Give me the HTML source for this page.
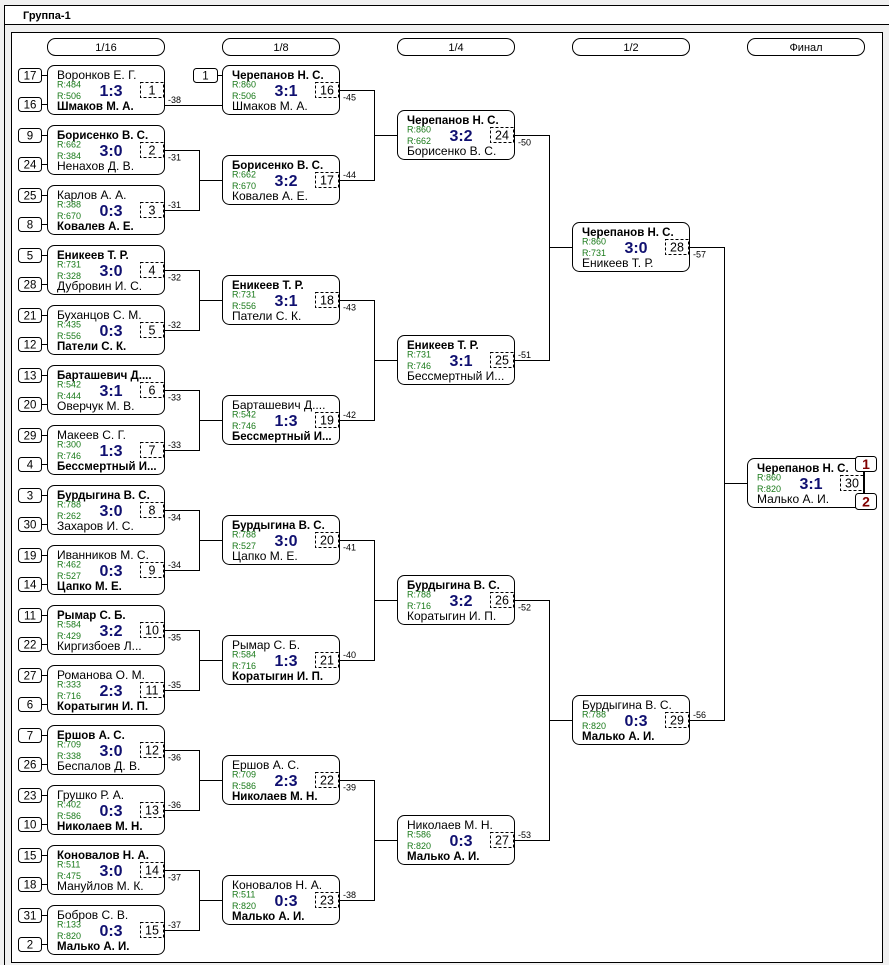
<!DOCTYPE html>
<html><head><meta charset="utf-8">
<style>
html,body{margin:0;padding:0;background:#f0f0f0;width:889px;height:965px;overflow:hidden}
svg{display:block}
text{font-family:"Liberation Sans",Arial,sans-serif;fill:#000}
.n{font-size:12px}
.b{font-size:11.5px;font-weight:bold}
.r{font-size:9px;fill:#1a7a1a}
.s{font-size:16px;font-weight:bold;fill:#101070;text-anchor:middle}
.m{font-size:12.5px;text-anchor:middle}
.q{font-size:11.5px;text-anchor:middle}
.l{font-size:9px}
.h{font-size:11px;text-anchor:middle}
.g{font-size:11px;font-weight:bold}
.p{font-size:14px;font-weight:bold;fill:#800000;text-anchor:middle}
.bx{fill:#fff;stroke:#000}
.ds{fill:#fff;stroke:#000;stroke-dasharray:3 2}
.sd{fill:#fff;stroke:#000}
.ln{stroke:#000;fill:none;shape-rendering:crispEdges}
</style></head><body>
<svg width="889" height="965" viewBox="0 0 889 965" xmlns="http://www.w3.org/2000/svg">
<rect x="0" y="0" width="889" height="965" fill="#f0f0f0"/>
<rect x="4" y="5" width="885" height="20" fill="#fff"/>
<path class="ln" d="M4 5.5H889M4 24.5H889M4.5 5V965"/>
<text class="g" x="23" y="19">Группа-1</text>
<rect x="11.5" y="32.5" width="871" height="930" fill="#fff" stroke="#000" shape-rendering="crispEdges"/>

<!-- round headers -->
<rect class="bx" x="47.5" y="38.5" width="117" height="17" rx="8"/><text class="h" x="106" y="51">1/16</text>
<rect class="bx" x="222.5" y="38.5" width="117" height="17" rx="8"/><text class="h" x="281" y="51">1/8</text>
<rect class="bx" x="397.5" y="38.5" width="117" height="17" rx="8"/><text class="h" x="456" y="51">1/4</text>
<rect class="bx" x="572.5" y="38.5" width="117" height="17" rx="8"/><text class="h" x="631" y="51">1/2</text>
<rect class="bx" x="747.5" y="38.5" width="117" height="17" rx="8"/><text class="h" x="806" y="51">Финал</text>

<!-- connectors -->
<path class="ln" d="M199.5 150V211M199.5 270V331M199.5 390V451M199.5 510V571M199.5 630V691M199.5 750V811M199.5 870V931
M199 180.5H222M199 300.5H222M199 420.5H222M199 540.5H222M199 660.5H222M199 780.5H222M199 900.5H222
M374.5 90V181M374.5 300V421M374.5 540V661M374.5 780V901
M374 135.5H397M374 360.5H397M374 600.5H397M374 840.5H397
M549.5 135V361M549.5 600V841M549 247.5H572M549 720.5H572
M724.5 247V721M724 483.5H747"/>

<!-- ROUND 1/16 -->
<g transform="translate(47,65)">
<rect class="sd" x="-28.5" y="3.5" width="23" height="14" rx="3"/><text class="q" x="-17" y="14.5">17</text>
<rect class="sd" x="-28.5" y="32.5" width="23" height="14" rx="3"/><text class="q" x="-17" y="43.5">16</text>
<path class="ln" d="M-5 10.5H0M-5 39.5H0M118 40.5H175"/>
<rect class="bx" x="0.5" y="0.5" width="117" height="49" rx="7"/>
<text class="n" x="10" y="14">Воронков Е. Г.</text><text class="r" x="10" y="22.5">R:484</text><text class="s" x="64" y="31">1:3</text><text class="r" x="10" y="34">R:506</text><text class="b" x="10" y="45">Шмаков М. А.</text>
<rect class="ds" x="93.5" y="17.5" width="23" height="15"/><text class="m" x="105" y="29.5">1</text>
<text class="l" x="121" y="38">-38</text>
</g>
<g transform="translate(47,125)">
<rect class="sd" x="-28.5" y="3.5" width="23" height="14" rx="3"/><text class="q" x="-17" y="14.5">9</text>
<rect class="sd" x="-28.5" y="32.5" width="23" height="14" rx="3"/><text class="q" x="-17" y="43.5">24</text>
<path class="ln" d="M-5 10.5H0M-5 39.5H0M118 25.5H153"/>
<rect class="bx" x="0.5" y="0.5" width="117" height="49" rx="7"/>
<text class="b" x="10" y="14">Борисенко В. С.</text><text class="r" x="10" y="22.5">R:662</text><text class="s" x="64" y="31">3:0</text><text class="r" x="10" y="34">R:384</text><text class="n" x="10" y="45">Ненахов Д. В.</text>
<rect class="ds" x="93.5" y="17.5" width="23" height="15"/><text class="m" x="105" y="29.5">2</text>
<text class="l" x="121" y="35.5">-31</text>
</g>
<g transform="translate(47,185)">
<rect class="sd" x="-28.5" y="3.5" width="23" height="14" rx="3"/><text class="q" x="-17" y="14.5">25</text>
<rect class="sd" x="-28.5" y="32.5" width="23" height="14" rx="3"/><text class="q" x="-17" y="43.5">8</text>
<path class="ln" d="M-5 10.5H0M-5 39.5H0M118 25.5H153"/>
<rect class="bx" x="0.5" y="0.5" width="117" height="49" rx="7"/>
<text class="n" x="10" y="14">Карлов А. А.</text><text class="r" x="10" y="22.5">R:388</text><text class="s" x="64" y="31">0:3</text><text class="r" x="10" y="34">R:670</text><text class="b" x="10" y="45">Ковалев А. Е.</text>
<rect class="ds" x="93.5" y="17.5" width="23" height="15"/><text class="m" x="105" y="29.5">3</text>
<text class="l" x="121" y="23">-31</text>
</g>
<g transform="translate(47,245)">
<rect class="sd" x="-28.5" y="3.5" width="23" height="14" rx="3"/><text class="q" x="-17" y="14.5">5</text>
<rect class="sd" x="-28.5" y="32.5" width="23" height="14" rx="3"/><text class="q" x="-17" y="43.5">28</text>
<path class="ln" d="M-5 10.5H0M-5 39.5H0M118 25.5H153"/>
<rect class="bx" x="0.5" y="0.5" width="117" height="49" rx="7"/>
<text class="b" x="10" y="14">Еникеев Т. Р.</text><text class="r" x="10" y="22.5">R:731</text><text class="s" x="64" y="31">3:0</text><text class="r" x="10" y="34">R:328</text><text class="n" x="10" y="45">Дубровин И. С.</text>
<rect class="ds" x="93.5" y="17.5" width="23" height="15"/><text class="m" x="105" y="29.5">4</text>
<text class="l" x="121" y="35.5">-32</text>
</g>
<g transform="translate(47,305)">
<rect class="sd" x="-28.5" y="3.5" width="23" height="14" rx="3"/><text class="q" x="-17" y="14.5">21</text>
<rect class="sd" x="-28.5" y="32.5" width="23" height="14" rx="3"/><text class="q" x="-17" y="43.5">12</text>
<path class="ln" d="M-5 10.5H0M-5 39.5H0M118 25.5H153"/>
<rect class="bx" x="0.5" y="0.5" width="117" height="49" rx="7"/>
<text class="n" x="10" y="14">Буханцов С. М.</text><text class="r" x="10" y="22.5">R:435</text><text class="s" x="64" y="31">0:3</text><text class="r" x="10" y="34">R:556</text><text class="b" x="10" y="45">Патели С. К.</text>
<rect class="ds" x="93.5" y="17.5" width="23" height="15"/><text class="m" x="105" y="29.5">5</text>
<text class="l" x="121" y="23">-32</text>
</g>
<g transform="translate(47,365)">
<rect class="sd" x="-28.5" y="3.5" width="23" height="14" rx="3"/><text class="q" x="-17" y="14.5">13</text>
<rect class="sd" x="-28.5" y="32.5" width="23" height="14" rx="3"/><text class="q" x="-17" y="43.5">20</text>
<path class="ln" d="M-5 10.5H0M-5 39.5H0M118 25.5H153"/>
<rect class="bx" x="0.5" y="0.5" width="117" height="49" rx="7"/>
<text class="b" x="10" y="14">Барташевич Д....</text><text class="r" x="10" y="22.5">R:542</text><text class="s" x="64" y="31">3:1</text><text class="r" x="10" y="34">R:444</text><text class="n" x="10" y="45">Оверчук М. В.</text>
<rect class="ds" x="93.5" y="17.5" width="23" height="15"/><text class="m" x="105" y="29.5">6</text>
<text class="l" x="121" y="35.5">-33</text>
</g>
<g transform="translate(47,425)">
<rect class="sd" x="-28.5" y="3.5" width="23" height="14" rx="3"/><text class="q" x="-17" y="14.5">29</text>
<rect class="sd" x="-28.5" y="32.5" width="23" height="14" rx="3"/><text class="q" x="-17" y="43.5">4</text>
<path class="ln" d="M-5 10.5H0M-5 39.5H0M118 25.5H153"/>
<rect class="bx" x="0.5" y="0.5" width="117" height="49" rx="7"/>
<text class="n" x="10" y="14">Макеев С. Г.</text><text class="r" x="10" y="22.5">R:300</text><text class="s" x="64" y="31">1:3</text><text class="r" x="10" y="34">R:746</text><text class="b" x="10" y="45">Бессмертный И...</text>
<rect class="ds" x="93.5" y="17.5" width="23" height="15"/><text class="m" x="105" y="29.5">7</text>
<text class="l" x="121" y="23">-33</text>
</g>
<g transform="translate(47,485)">
<rect class="sd" x="-28.5" y="3.5" width="23" height="14" rx="3"/><text class="q" x="-17" y="14.5">3</text>
<rect class="sd" x="-28.5" y="32.5" width="23" height="14" rx="3"/><text class="q" x="-17" y="43.5">30</text>
<path class="ln" d="M-5 10.5H0M-5 39.5H0M118 25.5H153"/>
<rect class="bx" x="0.5" y="0.5" width="117" height="49" rx="7"/>
<text class="b" x="10" y="14">Бурдыгина В. С.</text><text class="r" x="10" y="22.5">R:788</text><text class="s" x="64" y="31">3:0</text><text class="r" x="10" y="34">R:262</text><text class="n" x="10" y="45">Захаров И. С.</text>
<rect class="ds" x="93.5" y="17.5" width="23" height="15"/><text class="m" x="105" y="29.5">8</text>
<text class="l" x="121" y="35.5">-34</text>
</g>
<g transform="translate(47,545)">
<rect class="sd" x="-28.5" y="3.5" width="23" height="14" rx="3"/><text class="q" x="-17" y="14.5">19</text>
<rect class="sd" x="-28.5" y="32.5" width="23" height="14" rx="3"/><text class="q" x="-17" y="43.5">14</text>
<path class="ln" d="M-5 10.5H0M-5 39.5H0M118 25.5H153"/>
<rect class="bx" x="0.5" y="0.5" width="117" height="49" rx="7"/>
<text class="n" x="10" y="14">Иванников М. С.</text><text class="r" x="10" y="22.5">R:462</text><text class="s" x="64" y="31">0:3</text><text class="r" x="10" y="34">R:527</text><text class="b" x="10" y="45">Цапко М. Е.</text>
<rect class="ds" x="93.5" y="17.5" width="23" height="15"/><text class="m" x="105" y="29.5">9</text>
<text class="l" x="121" y="23">-34</text>
</g>
<g transform="translate(47,605)">
<rect class="sd" x="-28.5" y="3.5" width="23" height="14" rx="3"/><text class="q" x="-17" y="14.5">11</text>
<rect class="sd" x="-28.5" y="32.5" width="23" height="14" rx="3"/><text class="q" x="-17" y="43.5">22</text>
<path class="ln" d="M-5 10.5H0M-5 39.5H0M118 25.5H153"/>
<rect class="bx" x="0.5" y="0.5" width="117" height="49" rx="7"/>
<text class="b" x="10" y="14">Рымар С. Б.</text><text class="r" x="10" y="22.5">R:584</text><text class="s" x="64" y="31">3:2</text><text class="r" x="10" y="34">R:429</text><text class="n" x="10" y="45">Киргизбоев Л...</text>
<rect class="ds" x="93.5" y="17.5" width="23" height="15"/><text class="m" x="105" y="29.5">10</text>
<text class="l" x="121" y="35.5">-35</text>
</g>
<g transform="translate(47,665)">
<rect class="sd" x="-28.5" y="3.5" width="23" height="14" rx="3"/><text class="q" x="-17" y="14.5">27</text>
<rect class="sd" x="-28.5" y="32.5" width="23" height="14" rx="3"/><text class="q" x="-17" y="43.5">6</text>
<path class="ln" d="M-5 10.5H0M-5 39.5H0M118 25.5H153"/>
<rect class="bx" x="0.5" y="0.5" width="117" height="49" rx="7"/>
<text class="n" x="10" y="14">Романова О. М.</text><text class="r" x="10" y="22.5">R:333</text><text class="s" x="64" y="31">2:3</text><text class="r" x="10" y="34">R:716</text><text class="b" x="10" y="45">Коратыгин И. П.</text>
<rect class="ds" x="93.5" y="17.5" width="23" height="15"/><text class="m" x="105" y="29.5">11</text>
<text class="l" x="121" y="23">-35</text>
</g>
<g transform="translate(47,725)">
<rect class="sd" x="-28.5" y="3.5" width="23" height="14" rx="3"/><text class="q" x="-17" y="14.5">7</text>
<rect class="sd" x="-28.5" y="32.5" width="23" height="14" rx="3"/><text class="q" x="-17" y="43.5">26</text>
<path class="ln" d="M-5 10.5H0M-5 39.5H0M118 25.5H153"/>
<rect class="bx" x="0.5" y="0.5" width="117" height="49" rx="7"/>
<text class="b" x="10" y="14">Ершов А. С.</text><text class="r" x="10" y="22.5">R:709</text><text class="s" x="64" y="31">3:0</text><text class="r" x="10" y="34">R:338</text><text class="n" x="10" y="45">Беспалов Д. В.</text>
<rect class="ds" x="93.5" y="17.5" width="23" height="15"/><text class="m" x="105" y="29.5">12</text>
<text class="l" x="121" y="35.5">-36</text>
</g>
<g transform="translate(47,785)">
<rect class="sd" x="-28.5" y="3.5" width="23" height="14" rx="3"/><text class="q" x="-17" y="14.5">23</text>
<rect class="sd" x="-28.5" y="32.5" width="23" height="14" rx="3"/><text class="q" x="-17" y="43.5">10</text>
<path class="ln" d="M-5 10.5H0M-5 39.5H0M118 25.5H153"/>
<rect class="bx" x="0.5" y="0.5" width="117" height="49" rx="7"/>
<text class="n" x="10" y="14">Грушко Р. А.</text><text class="r" x="10" y="22.5">R:402</text><text class="s" x="64" y="31">0:3</text><text class="r" x="10" y="34">R:586</text><text class="b" x="10" y="45">Николаев М. Н.</text>
<rect class="ds" x="93.5" y="17.5" width="23" height="15"/><text class="m" x="105" y="29.5">13</text>
<text class="l" x="121" y="23">-36</text>
</g>
<g transform="translate(47,845)">
<rect class="sd" x="-28.5" y="3.5" width="23" height="14" rx="3"/><text class="q" x="-17" y="14.5">15</text>
<rect class="sd" x="-28.5" y="32.5" width="23" height="14" rx="3"/><text class="q" x="-17" y="43.5">18</text>
<path class="ln" d="M-5 10.5H0M-5 39.5H0M118 25.5H153"/>
<rect class="bx" x="0.5" y="0.5" width="117" height="49" rx="7"/>
<text class="b" x="10" y="14">Коновалов Н. А.</text><text class="r" x="10" y="22.5">R:511</text><text class="s" x="64" y="31">3:0</text><text class="r" x="10" y="34">R:475</text><text class="n" x="10" y="45">Мануйлов М. К.</text>
<rect class="ds" x="93.5" y="17.5" width="23" height="15"/><text class="m" x="105" y="29.5">14</text>
<text class="l" x="121" y="35.5">-37</text>
</g>
<g transform="translate(47,905)">
<rect class="sd" x="-28.5" y="3.5" width="23" height="14" rx="3"/><text class="q" x="-17" y="14.5">31</text>
<rect class="sd" x="-28.5" y="32.5" width="23" height="14" rx="3"/><text class="q" x="-17" y="43.5">2</text>
<path class="ln" d="M-5 10.5H0M-5 39.5H0M118 25.5H153"/>
<rect class="bx" x="0.5" y="0.5" width="117" height="49" rx="7"/>
<text class="n" x="10" y="14">Бобров С. В.</text><text class="r" x="10" y="22.5">R:133</text><text class="s" x="64" y="31">0:3</text><text class="r" x="10" y="34">R:820</text><text class="b" x="10" y="45">Малько А. И.</text>
<rect class="ds" x="93.5" y="17.5" width="23" height="15"/><text class="m" x="105" y="29.5">15</text>
<text class="l" x="121" y="23">-37</text>
</g>

<!-- ROUND 1/8 -->
<g transform="translate(222,65)">
<rect class="sd" x="-28.5" y="3.5" width="24" height="14" rx="3"/><text class="q" x="-16.5" y="14.5">1</text>
<path class="ln" d="M-4 10.5H0M118 25.5H153"/>
<rect class="bx" x="0.5" y="0.5" width="117" height="49" rx="7"/>
<text class="b" x="10" y="14">Черепанов Н. С.</text><text class="r" x="10" y="22.5">R:860</text><text class="s" x="64" y="31">3:1</text><text class="r" x="10" y="34">R:506</text><text class="n" x="10" y="45">Шмаков М. А.</text>
<rect class="ds" x="93.5" y="17.5" width="23" height="15"/><text class="m" x="105" y="29.5">16</text>
<text class="l" x="121" y="35.5">-45</text>
</g>
<g transform="translate(222,155)">
<path class="ln" d="M118 25.5H153"/>
<rect class="bx" x="0.5" y="0.5" width="117" height="49" rx="7"/>
<text class="b" x="10" y="14">Борисенко В. С.</text><text class="r" x="10" y="22.5">R:662</text><text class="s" x="64" y="31">3:2</text><text class="r" x="10" y="34">R:670</text><text class="n" x="10" y="45">Ковалев А. Е.</text>
<rect class="ds" x="93.5" y="17.5" width="23" height="15"/><text class="m" x="105" y="29.5">17</text>
<text class="l" x="121" y="23">-44</text>
</g>
<g transform="translate(222,275)">
<path class="ln" d="M118 25.5H153"/>
<rect class="bx" x="0.5" y="0.5" width="117" height="49" rx="7"/>
<text class="b" x="10" y="14">Еникеев Т. Р.</text><text class="r" x="10" y="22.5">R:731</text><text class="s" x="64" y="31">3:1</text><text class="r" x="10" y="34">R:556</text><text class="n" x="10" y="45">Патели С. К.</text>
<rect class="ds" x="93.5" y="17.5" width="23" height="15"/><text class="m" x="105" y="29.5">18</text>
<text class="l" x="121" y="35.5">-43</text>
</g>
<g transform="translate(222,395)">
<path class="ln" d="M118 25.5H153"/>
<rect class="bx" x="0.5" y="0.5" width="117" height="49" rx="7"/>
<text class="n" x="10" y="14">Барташевич Д....</text><text class="r" x="10" y="22.5">R:542</text><text class="s" x="64" y="31">1:3</text><text class="r" x="10" y="34">R:746</text><text class="b" x="10" y="45">Бессмертный И...</text>
<rect class="ds" x="93.5" y="17.5" width="23" height="15"/><text class="m" x="105" y="29.5">19</text>
<text class="l" x="121" y="23">-42</text>
</g>
<g transform="translate(222,515)">
<path class="ln" d="M118 25.5H153"/>
<rect class="bx" x="0.5" y="0.5" width="117" height="49" rx="7"/>
<text class="b" x="10" y="14">Бурдыгина В. С.</text><text class="r" x="10" y="22.5">R:788</text><text class="s" x="64" y="31">3:0</text><text class="r" x="10" y="34">R:527</text><text class="n" x="10" y="45">Цапко М. Е.</text>
<rect class="ds" x="93.5" y="17.5" width="23" height="15"/><text class="m" x="105" y="29.5">20</text>
<text class="l" x="121" y="35.5">-41</text>
</g>
<g transform="translate(222,635)">
<path class="ln" d="M118 25.5H153"/>
<rect class="bx" x="0.5" y="0.5" width="117" height="49" rx="7"/>
<text class="n" x="10" y="14">Рымар С. Б.</text><text class="r" x="10" y="22.5">R:584</text><text class="s" x="64" y="31">1:3</text><text class="r" x="10" y="34">R:716</text><text class="b" x="10" y="45">Коратыгин И. П.</text>
<rect class="ds" x="93.5" y="17.5" width="23" height="15"/><text class="m" x="105" y="29.5">21</text>
<text class="l" x="121" y="23">-40</text>
</g>
<g transform="translate(222,755)">
<path class="ln" d="M118 25.5H153"/>
<rect class="bx" x="0.5" y="0.5" width="117" height="49" rx="7"/>
<text class="n" x="10" y="14">Ершов А. С.</text><text class="r" x="10" y="22.5">R:709</text><text class="s" x="64" y="31">2:3</text><text class="r" x="10" y="34">R:586</text><text class="b" x="10" y="45">Николаев М. Н.</text>
<rect class="ds" x="93.5" y="17.5" width="23" height="15"/><text class="m" x="105" y="29.5">22</text>
<text class="l" x="121" y="35.5">-39</text>
</g>
<g transform="translate(222,875)">
<path class="ln" d="M118 25.5H153"/>
<rect class="bx" x="0.5" y="0.5" width="117" height="49" rx="7"/>
<text class="n" x="10" y="14">Коновалов Н. А.</text><text class="r" x="10" y="22.5">R:511</text><text class="s" x="64" y="31">0:3</text><text class="r" x="10" y="34">R:820</text><text class="b" x="10" y="45">Малько А. И.</text>
<rect class="ds" x="93.5" y="17.5" width="23" height="15"/><text class="m" x="105" y="29.5">23</text>
<text class="l" x="121" y="23">-38</text>
</g>

<!-- ROUND 1/4 -->
<g transform="translate(397,110)">
<path class="ln" d="M118 25.5H153"/>
<rect class="bx" x="0.5" y="0.5" width="117" height="49" rx="7"/>
<text class="b" x="10" y="14">Черепанов Н. С.</text><text class="r" x="10" y="22.5">R:860</text><text class="s" x="64" y="31">3:2</text><text class="r" x="10" y="34">R:662</text><text class="n" x="10" y="45">Борисенко В. С.</text>
<rect class="ds" x="93.5" y="17.5" width="23" height="15"/><text class="m" x="105" y="29.5">24</text>
<text class="l" x="121" y="35.5">-50</text>
</g>
<g transform="translate(397,335)">
<path class="ln" d="M118 25.5H153"/>
<rect class="bx" x="0.5" y="0.5" width="117" height="49" rx="7"/>
<text class="b" x="10" y="14">Еникеев Т. Р.</text><text class="r" x="10" y="22.5">R:731</text><text class="s" x="64" y="31">3:1</text><text class="r" x="10" y="34">R:746</text><text class="n" x="10" y="45">Бессмертный И...</text>
<rect class="ds" x="93.5" y="17.5" width="23" height="15"/><text class="m" x="105" y="29.5">25</text>
<text class="l" x="121" y="23">-51</text>
</g>
<g transform="translate(397,575)">
<path class="ln" d="M118 25.5H153"/>
<rect class="bx" x="0.5" y="0.5" width="117" height="49" rx="7"/>
<text class="b" x="10" y="14">Бурдыгина В. С.</text><text class="r" x="10" y="22.5">R:788</text><text class="s" x="64" y="31">3:2</text><text class="r" x="10" y="34">R:716</text><text class="n" x="10" y="45">Коратыгин И. П.</text>
<rect class="ds" x="93.5" y="17.5" width="23" height="15"/><text class="m" x="105" y="29.5">26</text>
<text class="l" x="121" y="35.5">-52</text>
</g>
<g transform="translate(397,815)">
<path class="ln" d="M118 25.5H153"/>
<rect class="bx" x="0.5" y="0.5" width="117" height="49" rx="7"/>
<text class="n" x="10" y="14">Николаев М. Н.</text><text class="r" x="10" y="22.5">R:586</text><text class="s" x="64" y="31">0:3</text><text class="r" x="10" y="34">R:820</text><text class="b" x="10" y="45">Малько А. И.</text>
<rect class="ds" x="93.5" y="17.5" width="23" height="15"/><text class="m" x="105" y="29.5">27</text>
<text class="l" x="121" y="23">-53</text>
</g>

<!-- ROUND 1/2 -->
<g transform="translate(572,222)">
<path class="ln" d="M118 25.5H153"/>
<rect class="bx" x="0.5" y="0.5" width="117" height="49" rx="7"/>
<text class="b" x="10" y="14">Черепанов Н. С.</text><text class="r" x="10" y="22.5">R:860</text><text class="s" x="64" y="31">3:0</text><text class="r" x="10" y="34">R:731</text><text class="n" x="10" y="45">Еникеев Т. Р.</text>
<rect class="ds" x="93.5" y="17.5" width="23" height="15"/><text class="m" x="105" y="29.5">28</text>
<text class="l" x="121" y="35.5">-57</text>
</g>
<g transform="translate(572,695)">
<path class="ln" d="M118 25.5H153"/>
<rect class="bx" x="0.5" y="0.5" width="117" height="49" rx="7"/>
<text class="n" x="10" y="14">Бурдыгина В. С.</text><text class="r" x="10" y="22.5">R:788</text><text class="s" x="64" y="31">0:3</text><text class="r" x="10" y="34">R:820</text><text class="b" x="10" y="45">Малько А. И.</text>
<rect class="ds" x="93.5" y="17.5" width="23" height="15"/><text class="m" x="105" y="29.5">29</text>
<text class="l" x="121" y="23">-56</text>
</g>

<!-- FINAL -->
<g transform="translate(747,458)">
<rect class="bx" x="0.5" y="0.5" width="117" height="49" rx="7"/>
<text class="b" x="10" y="14">Черепанов Н. С.</text><text class="r" x="10" y="22.5">R:860</text><text class="s" x="64" y="31">3:1</text><text class="r" x="10" y="34">R:820</text><text class="n" x="10" y="45">Малько А. И.</text>
<rect class="ds" x="93.5" y="17.5" width="23" height="15"/><text class="m" x="105" y="29.5">30</text>
<path class="ln" d="M116.5 14V36"/>
<rect class="sd" x="108.5" y="-1.5" width="21" height="15" rx="3"/><text class="p" x="119" y="11">1</text>
<rect class="sd" x="108.5" y="35.5" width="21" height="16" rx="3"/><text class="p" x="119" y="48.5">2</text>
</g>
</svg>
</body></html>
